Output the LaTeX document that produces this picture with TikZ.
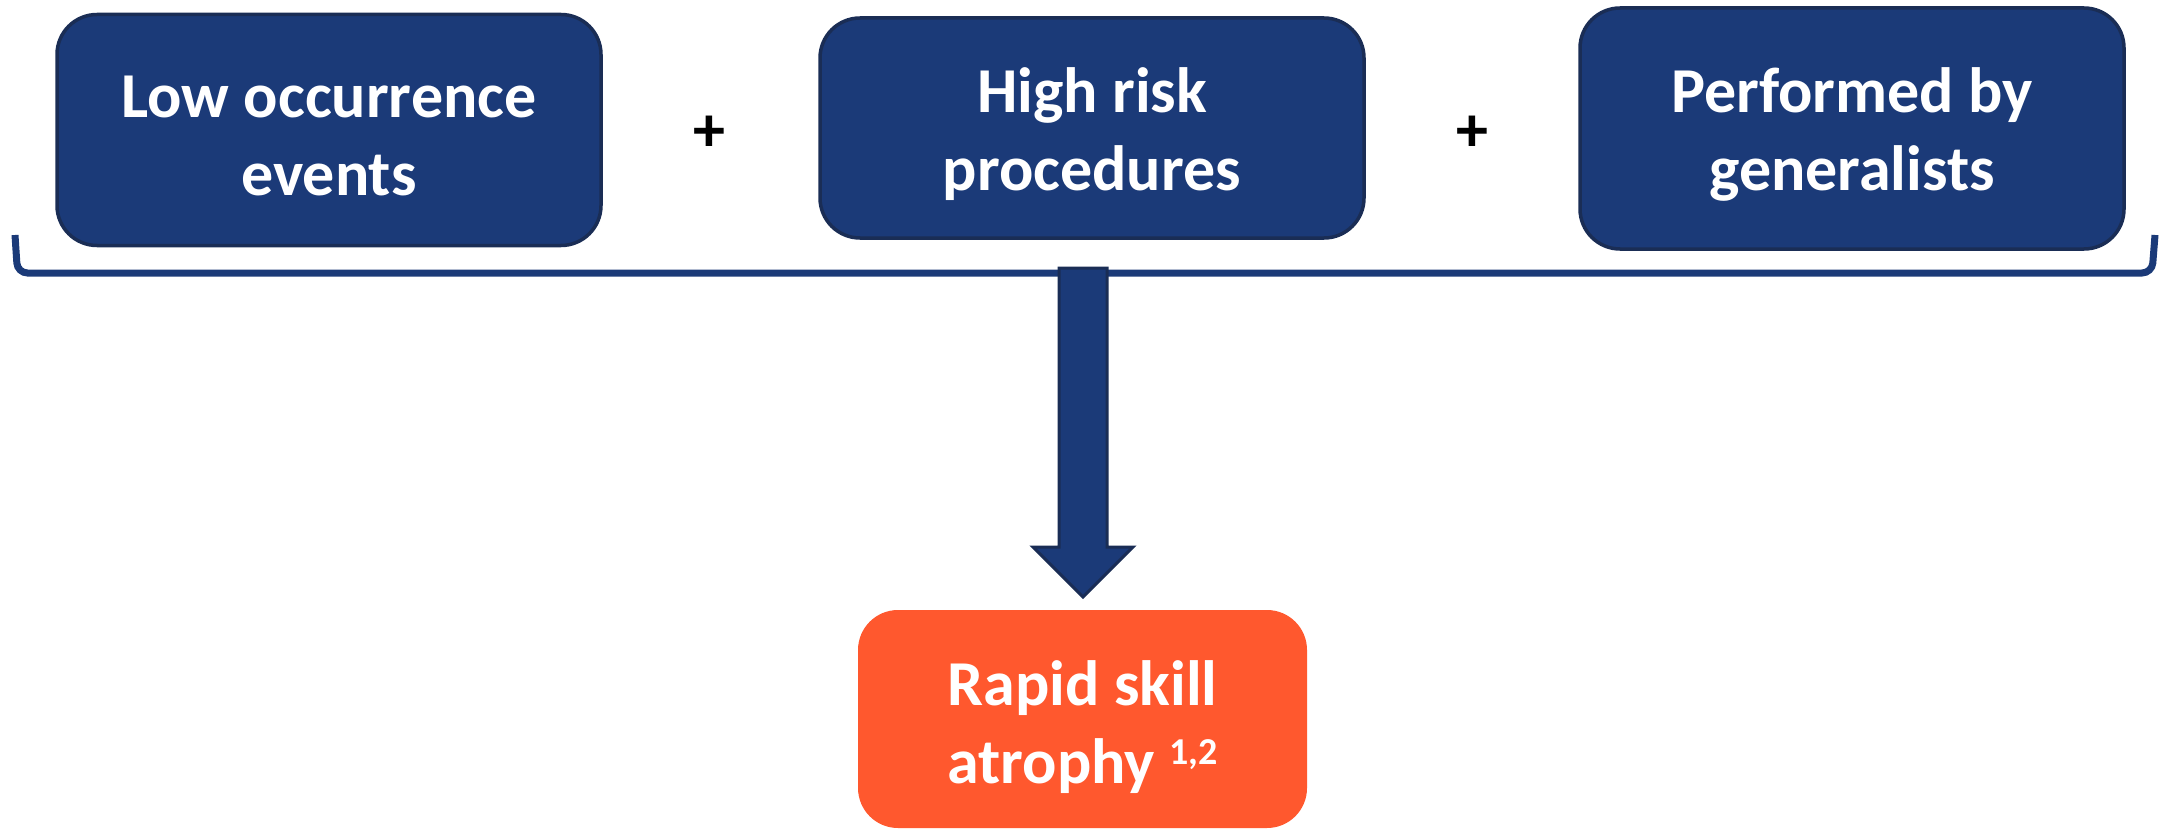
\documentclass[tikz,border=0pt]{standalone}
\usepackage{fontspec}
\setmainfont{Carlito}
\usetikzlibrary{calc}
\definecolor{boxblue}{HTML}{1B3A78}
\definecolor{boxedge}{HTML}{1A2D55}
\definecolor{outorange}{HTML}{FF582E}
\newcommand{\supnums}[1]{\raisebox{19pt}{\fontsize{38}{38}\selectfont #1}}
\tikzset{
  cause/.style={rectangle, rounded corners=40pt, fill=boxblue, draw=boxedge, line width=3.5pt,
    minimum width=544pt},
  boxtext/.style={text=white, align=center, font=\fontsize{64}{78}\selectfont\bfseries, yshift=-6pt},
  result/.style={rectangle, rounded corners=40pt, fill=outorange, draw=none,
    minimum width=449pt, minimum height=218pt},
  plussign/.style={font=\fontsize{64}{66}\selectfont\bfseries, text=black},
  bracketline/.style={draw=boxblue, line width=7pt, rounded corners=10pt},
  bigarrow/.style={fill=boxblue, draw=boxedge, line width=3pt, line join=miter}
}
\begin{document}
\begin{tikzpicture}[x=1pt,y=-1pt]
\useasboundingbox (0,0) rectangle (2167,829);
% cause boxes
\node[cause, minimum height=231pt, label={[boxtext]center:{Low occurrence\\events}}] (b1) at (329,130) {};
\node[cause, minimum height=220pt, label={[boxtext]center:{High risk\\procedures}}] (b2) at (1092,128) {};
\node[cause, minimum height=241pt, label={[boxtext]center:{Performed by\\generalists}}] (b3) at (1852,128.5) {};
% plus signs
\node[plussign] (p1) at (709.5,134) {+};
\node[plussign] (p2) at (1472,134) {+};
% bracket
\coordinate (bl) at (15,235);
\coordinate (br) at (2155,235);
\draw[bracketline] (bl) -- ($(bl)+(2.5,38)$) -- ($(br)+(-3,38)$) -- (br);
% result box
\node[result, label={[boxtext, yshift=-2pt]center:{Rapid skill\\atrophy \supnums{1,2}}}] (r) at (1082.5,719) {};
% big arrow
\coordinate (at) at (1083,268);
\coordinate (tip) at (1083,597);
\draw[bigarrow] ($(at)+(-24,0)$) -- ($(tip)+(-24,-50)$) -- ($(tip)+(-50,-50)$)
  -- (tip) -- ($(tip)+(50,-50)$) -- ($(tip)+(24,-50)$) -- ($(at)+(24,0)$) -- cycle;
\end{tikzpicture}
\end{document}
